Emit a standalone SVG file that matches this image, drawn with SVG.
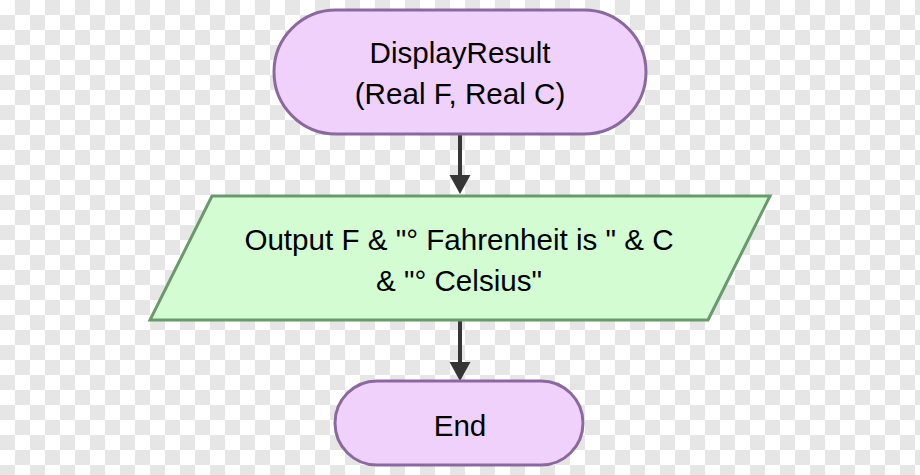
<svg xmlns="http://www.w3.org/2000/svg" width="920" height="475" viewBox="0 0 920 475">
  <defs>
    <pattern id="checker" x="0" y="0" width="30" height="30" patternUnits="userSpaceOnUse">
      <rect x="0" y="0" width="30" height="30" fill="#ffffff"/>
      <rect x="15" y="0" width="15" height="15" fill="#e6e6e6"/>
      <rect x="0" y="15" width="15" height="15" fill="#e6e6e6"/>
    </pattern>
    <marker id="arrow" markerUnits="userSpaceOnUse" markerWidth="22" markerHeight="22" refX="0" refY="10.5" orient="auto">
      <path d="M0,0 L19,10.5 L0,21 Z" fill="#363636"/>
    </marker>
    <style>
      .term { fill: #f0d1fc; stroke: #8a6a9e; stroke-width: 3; }
      .io { fill: #d3fcd3; stroke: #6a9a6c; stroke-width: 3; }
      .lbl { font-family: "Liberation Sans", Arial, sans-serif; font-size: 29.6px; fill: #000000; text-anchor: middle; }
      .edge { stroke: #363636; stroke-width: 4; fill: none; }
    </style>
  </defs>
  <rect x="0" y="0" width="920" height="475" fill="url(#checker)"/>

  <g id="connectors">
    <line class="edge" x1="460" y1="135" x2="460" y2="175" marker-end="url(#arrow)"/>
    <line class="edge" x1="460" y1="321" x2="460" y2="362" marker-end="url(#arrow)"/>
  </g>

  <g id="start">
    <rect class="term" x="274" y="10" width="372" height="124" rx="62" ry="62"/>
    <text class="lbl" x="460" y="63">DisplayResult</text>
    <text class="lbl" x="460" y="104">(Real F, Real C)</text>
  </g>

  <g id="output">
    <polygon class="io" points="212,196 770,196 708,320 150,320"/>
    <text class="lbl" x="459" y="250">Output F &amp; "° Fahrenheit is " &amp; C</text>
    <text class="lbl" x="459" y="291">&amp; "° Celsius"</text>
  </g>

  <g id="end">
    <rect class="term" x="335" y="381" width="248" height="84" rx="42" ry="42"/>
    <text class="lbl" x="460" y="436">End</text>
  </g>
</svg>
